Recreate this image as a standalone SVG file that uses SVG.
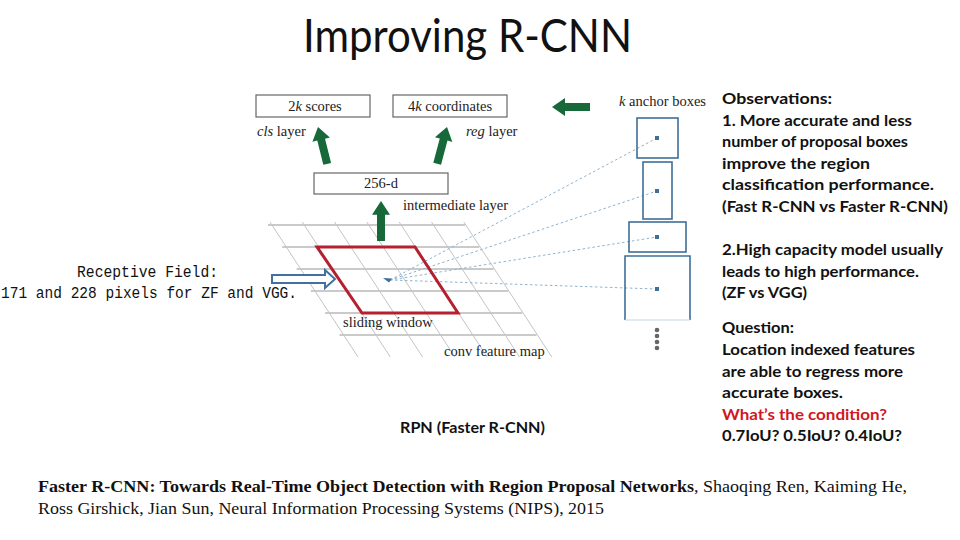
<svg xmlns="http://www.w3.org/2000/svg" width="960" height="540" viewBox="0 0 960 540">
<style>
.fig{font-family:"Liberation Serif","Times New Roman",serif;font-size:14.5px;fill:#222}
.box{fill:#fff;stroke:#666;stroke-width:1.2}
.hl{stroke:#b8b8b8;stroke-width:1.6}
.dl{stroke:#c4c4c4;stroke-width:1}
.anc{fill:none;stroke:#3f6f98;stroke-width:1.6}
.dot{fill:#3f6f98}
.dash{stroke:#8eb2cf;stroke-width:1;stroke-dasharray:2.5,2.5;fill:none}
.obs{font-family:Lato,"Open Sans",sans-serif;font-weight:700;font-size:16px;fill:#111}
.green{fill:#17693a}
.cite{font-family:"Liberation Serif","Times New Roman",serif;font-size:16.5px;fill:#111}
.mono{font-family:"Liberation Mono","DejaVu Sans Mono",monospace;font-size:16px;fill:#111}
</style>
<defs>
<path id="garrow" d="M0,0 L9,13 L4,13 L4,38 L-4,38 L-4,13 L-9,13 Z"/>
</defs>
<rect width="960" height="540" fill="#fff"/>

<g id="title">
<text x="303" y="52" font-family="Lato,'Open Sans',sans-serif" font-size="46" fill="#111" textLength="329" lengthAdjust="spacingAndGlyphs">Improving R-CNN</text>
</g>

<g id="grid">
<line class="hl" x1="268" y1="225" x2="465" y2="225"/>
<line class="hl" x1="282.3" y1="247" x2="479.3" y2="247"/>
<line class="hl" x1="296.6" y1="269" x2="493.6" y2="269"/>
<line class="hl" x1="310.9" y1="291" x2="507.9" y2="291"/>
<line class="hl" x1="325.2" y1="313" x2="522.2" y2="313"/>
<line class="hl" x1="339.5" y1="335" x2="536.5" y2="335"/>
<line class="dl" x1="270" y1="222" x2="358" y2="357"/>
<line class="dl" x1="302.3" y1="222" x2="390.3" y2="357"/>
<line class="dl" x1="334.6" y1="222" x2="422.6" y2="357"/>
<line class="dl" x1="366.9" y1="222" x2="454.9" y2="357"/>
<line class="dl" x1="399.2" y1="222" x2="487.2" y2="357"/>
<line class="dl" x1="431.5" y1="222" x2="519.5" y2="357"/>
<line class="dl" x1="463.8" y1="222" x2="551.8" y2="357"/>
</g>

<g id="connectors">
<line class="dash" x1="390" y1="280" x2="657" y2="138"/>
<line class="dash" x1="390" y1="280" x2="657" y2="191"/>
<line class="dash" x1="390" y1="280" x2="657" y2="237"/>
<line class="dash" x1="390" y1="280" x2="657" y2="289"/>
<use href="#garrow" class="green" transform="translate(318,127) rotate(-14)"/>
<use href="#garrow" class="green" transform="translate(447,127) rotate(15)"/>
<use href="#garrow" class="green" transform="translate(381,201) scale(1,1.05)"/>
<use href="#garrow" class="green" transform="translate(552,107) rotate(-90)"/>
<path d="M272,275 H325 V270 L335,279 L325,288 V283 H272 Z" fill="#fff" stroke="#41719c" stroke-width="2"/>
</g>

<g id="sliding-window">
<polygon points="317,247 415,247 458,313 362,313" fill="none" stroke="#b5202e" stroke-width="3"/>
<polygon points="383,278 392,278.5 389,282.5" fill="#3f6f98"/>
<text class="fig" x="343" y="327">sliding window</text>
<text class="fig" x="444" y="356">conv feature map</text>
</g>

<g id="cls-box">
<rect class="box" x="256" y="95" width="114" height="22"/>
<text class="fig" x="315" y="111" text-anchor="middle">2<tspan font-style="italic">k</tspan> scores</text>
<text class="fig" x="257" y="136"><tspan font-style="italic">cls</tspan> layer</text>
</g>

<g id="reg-box">
<rect class="box" x="393" y="95" width="114" height="22"/>
<text class="fig" x="450" y="111" text-anchor="middle">4<tspan font-style="italic">k</tspan> coordinates</text>
<text class="fig" x="466" y="136"><tspan font-style="italic">reg</tspan> layer</text>
</g>

<g id="intermediate">
<rect class="box" x="314" y="173" width="134" height="21"/>
<text class="fig" x="381" y="188" text-anchor="middle">256-d</text>
<text class="fig" x="403" y="210">intermediate layer</text>
</g>

<g id="anchors">
<text class="fig" x="619" y="106"><tspan font-style="italic">k</tspan> anchor boxes</text>
<rect class="anc" x="637" y="118" width="41" height="40"/>
<rect class="anc" x="643" y="162" width="29" height="57" stroke="#5a7f9f"/>
<rect class="anc" x="629" y="222" width="57" height="30"/>
<path class="anc" d="M625,320 V256 H690 V320"/>
<line x1="625" y1="320" x2="690" y2="320" stroke="#c8d6e2" stroke-width="1.2"/>
<rect class="dot" x="655" y="136" width="4" height="4"/>
<rect class="dot" x="655" y="189" width="4" height="4"/>
<rect class="dot" x="655" y="235" width="4" height="4"/>
<rect class="dot" x="655" y="287" width="4" height="4"/>
<circle cx="657" cy="330" r="2.3" fill="#666"/>
<circle cx="657" cy="336" r="2.3" fill="#666"/>
<circle cx="657" cy="342" r="2.3" fill="#666"/>
<circle cx="657" cy="348" r="2.3" fill="#666"/>
</g>

<g id="receptive-field">
<text class="mono" x="77" y="277" textLength="141" lengthAdjust="spacingAndGlyphs">Receptive Field:</text>
<text class="mono" x="1" y="298" textLength="296" lengthAdjust="spacingAndGlyphs">171 and 228 pixels for ZF and VGG.</text>
</g>

<g id="rpn-label">
<text class="obs" x="400" y="433" font-size="15" textLength="145" lengthAdjust="spacingAndGlyphs">RPN (Faster R-CNN)</text>
</g>

<g id="observations">
<text class="obs" x="722" y="104" textLength="110" lengthAdjust="spacingAndGlyphs">Observations:</text>
<text class="obs" x="722" y="126" textLength="190" lengthAdjust="spacingAndGlyphs">1. More accurate and less</text>
<text class="obs" x="722" y="147" textLength="186" lengthAdjust="spacingAndGlyphs">number of proposal boxes</text>
<text class="obs" x="722" y="169" textLength="148" lengthAdjust="spacingAndGlyphs">improve the region</text>
<text class="obs" x="722" y="190" textLength="212" lengthAdjust="spacingAndGlyphs">classification performance.</text>
<text class="obs" x="722" y="212" textLength="226" lengthAdjust="spacingAndGlyphs">(Fast R-CNN vs Faster R-CNN)</text>
<text class="obs" x="722" y="255" textLength="221" lengthAdjust="spacingAndGlyphs">2.High capacity model usually</text>
<text class="obs" x="722" y="277" textLength="197" lengthAdjust="spacingAndGlyphs">leads to high performance.</text>
<text class="obs" x="722" y="298" textLength="85" lengthAdjust="spacingAndGlyphs">(ZF vs VGG)</text>
</g>

<g id="question">
<text class="obs" x="722" y="333" textLength="72" lengthAdjust="spacingAndGlyphs">Question:</text>
<text class="obs" x="722" y="355" textLength="193" lengthAdjust="spacingAndGlyphs">Location indexed features</text>
<text class="obs" x="722" y="377" textLength="181" lengthAdjust="spacingAndGlyphs">are able to regress more</text>
<text class="obs" x="722" y="398" textLength="121" lengthAdjust="spacingAndGlyphs">accurate boxes.</text>
<text class="obs" x="722" y="420" style="fill:#d0181f" textLength="165" lengthAdjust="spacingAndGlyphs">What’s the condition?</text>
<text class="obs" x="722" y="441" textLength="180" lengthAdjust="spacingAndGlyphs">0.7IoU? 0.5IoU? 0.4IoU?</text>
</g>

<g id="citation">
<text class="cite" x="38" y="492" textLength="869" lengthAdjust="spacingAndGlyphs"><tspan font-weight="700">Faster R-CNN: Towards Real-Time Object Detection with Region Proposal Networks</tspan>, Shaoqing Ren, Kaiming He,</text>
<text class="cite" x="38" y="514" textLength="566" lengthAdjust="spacingAndGlyphs">Ross Girshick, Jian Sun, Neural Information Processing Systems (NIPS), 2015</text>
</g>
</svg>
